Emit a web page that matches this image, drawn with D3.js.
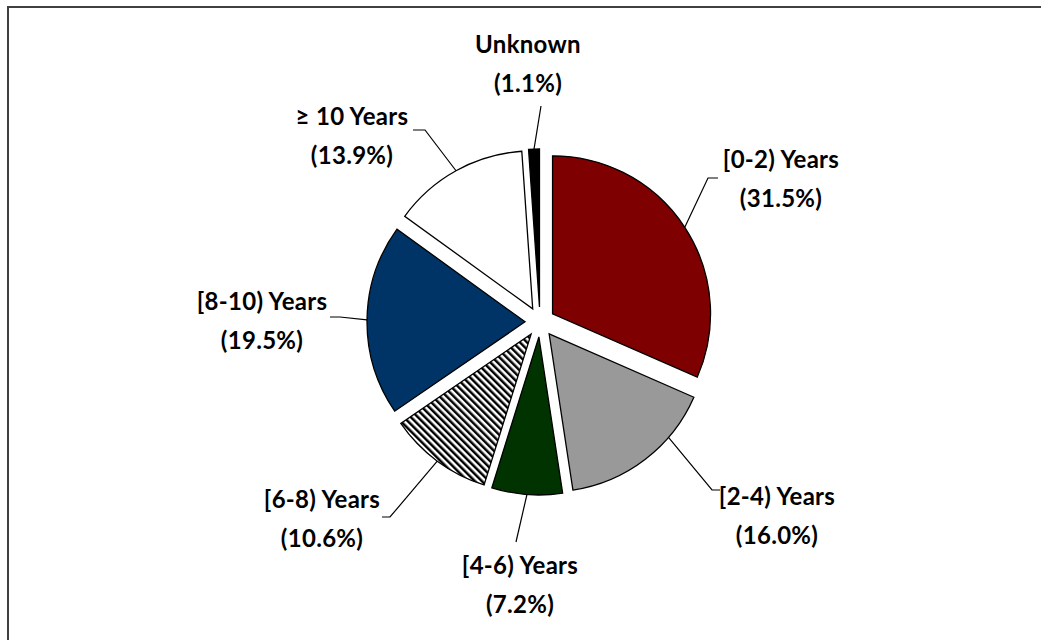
<!DOCTYPE html>
<html>
<head>
<meta charset="utf-8">
<script src="https://cdn.jsdelivr.net/npm/d3@7"></script>
<style>
  body { margin: 0; background: #fff; }
  svg text { font-family: Lato, "Open Sans", sans-serif; font-weight: 700; fill: #000; }
</style>
</head>
<body>
<svg id="chart" width="1041" height="640"></svg>
<script>
// shares of each tenure band (clockwise from 12 o'clock)
const categories = ["[0-2) Years", "[2-4) Years", "[4-6) Years", "[6-8) Years", "[8-10) Years", "\u2265 10 Years", "Unknown"];
const shares = [31.5, 16.0, 7.2, 10.6, 19.5, 13.9, 1.1];

const fills = ["#7f0000", "#999999", "#003300", "url(#hatch)", "#003366", "#ffffff", "#000000"];

// where each label sits: text centre x, first baseline y, leader elbow + end
const labelLayout = [
  {x: 781, y: 168, elbow: [708, 178], end: [718, 178]},
  {x: 777, y: 505, elbow: [712, 490], end: [720, 490]},
  {x: 520, y: 574, elbow: [516, 542], end: [516, 542]},
  {x: 322, y: 508, elbow: [390, 517], end: [382, 517]},
  {x: 262, y: 310, elbow: [340, 317], end: [330, 317]},
  {x: 352, y: 125, elbow: [425, 130], end: [413, 130]},
  {x: 528, y: 53,  elbow: [541, 106], end: [541, 106]}
];
// fraction along each slice's rim where its leader starts
const leaderAt = [0.5, 0.3, 0.5, 0.5, 0.5, 0.5, 0.5];

const cx = 540, cy = 322, radius = 158, explode = 15, lineGap = 39;

const svg = d3.select("#chart");

const defs = svg.append("defs");
const hatch = defs.append("pattern")
  .attr("id", "hatch")
  .attr("patternUnits", "userSpaceOnUse")
  .attr("width", 5).attr("height", 5)
  .attr("patternTransform", "rotate(-45)");
hatch.append("rect").attr("width", 5).attr("height", 5).attr("fill", "#fff");
hatch.append("rect").attr("width", 2.5).attr("height", 5).attr("fill", "#000");

// chart frame (runs off the right / bottom of the picture)
svg.append("rect")
  .attr("x", 8).attr("y", 7)
  .attr("width", 1100).attr("height", 700)
  .attr("fill", "none")
  .attr("stroke", "#404040")
  .attr("stroke-width", 2);

const pie = d3.pie().sort(null).value(d => d);
const arcs = pie(shares);

const arc = d3.arc().innerRadius(0).outerRadius(radius);

const mid = d => (d.startAngle + d.endAngle) / 2;
const offset = d => [explode * Math.sin(mid(d)), -explode * Math.cos(mid(d))];

const g = svg.append("g").attr("transform", "translate(" + cx + "," + cy + ")");

g.selectAll("path.slice")
  .data(arcs)
  .enter().append("path")
  .attr("class", "slice")
  .attr("transform", d => "translate(" + offset(d) + ")")
  .attr("d", arc)
  .attr("fill", (d, i) => fills[i])
  .attr("stroke", "#000")
  .attr("stroke-width", 1.3)
  .attr("stroke-linejoin", "miter");

// leader lines from the slice rim out to the labels
svg.selectAll("path.leader")
  .data(arcs)
  .enter().append("path")
  .attr("class", "leader")
  .attr("d", (d, i) => {
    const o = offset(d);
    const a = d.startAngle + (d.endAngle - d.startAngle) * leaderAt[i];
    const sx = cx + o[0] + radius * Math.sin(a);
    const sy = cy + o[1] - radius * Math.cos(a);
    const L = labelLayout[i];
    return d3.line()([[sx, sy], L.elbow, L.end]);
  })
  .attr("fill", "none")
  .attr("stroke", "#000")
  .attr("stroke-width", 1.2);

const labels = svg.selectAll("text.label")
  .data(arcs)
  .enter().append("text")
  .attr("class", "label")
  .attr("text-anchor", "middle")
  .style("font-size", "24px")
  .style("letter-spacing", "0.3px");

labels.append("tspan")
  .attr("x", (d, i) => labelLayout[i].x)
  .attr("y", (d, i) => labelLayout[i].y)
  .text((d, i) => categories[i]);

labels.append("tspan")
  .attr("x", (d, i) => labelLayout[i].x)
  .attr("y", (d, i) => labelLayout[i].y + lineGap)
  .text((d, i) => "(" + d3.format(".1f")(shares[i]) + "%)");
</script>
</body>
</html>
